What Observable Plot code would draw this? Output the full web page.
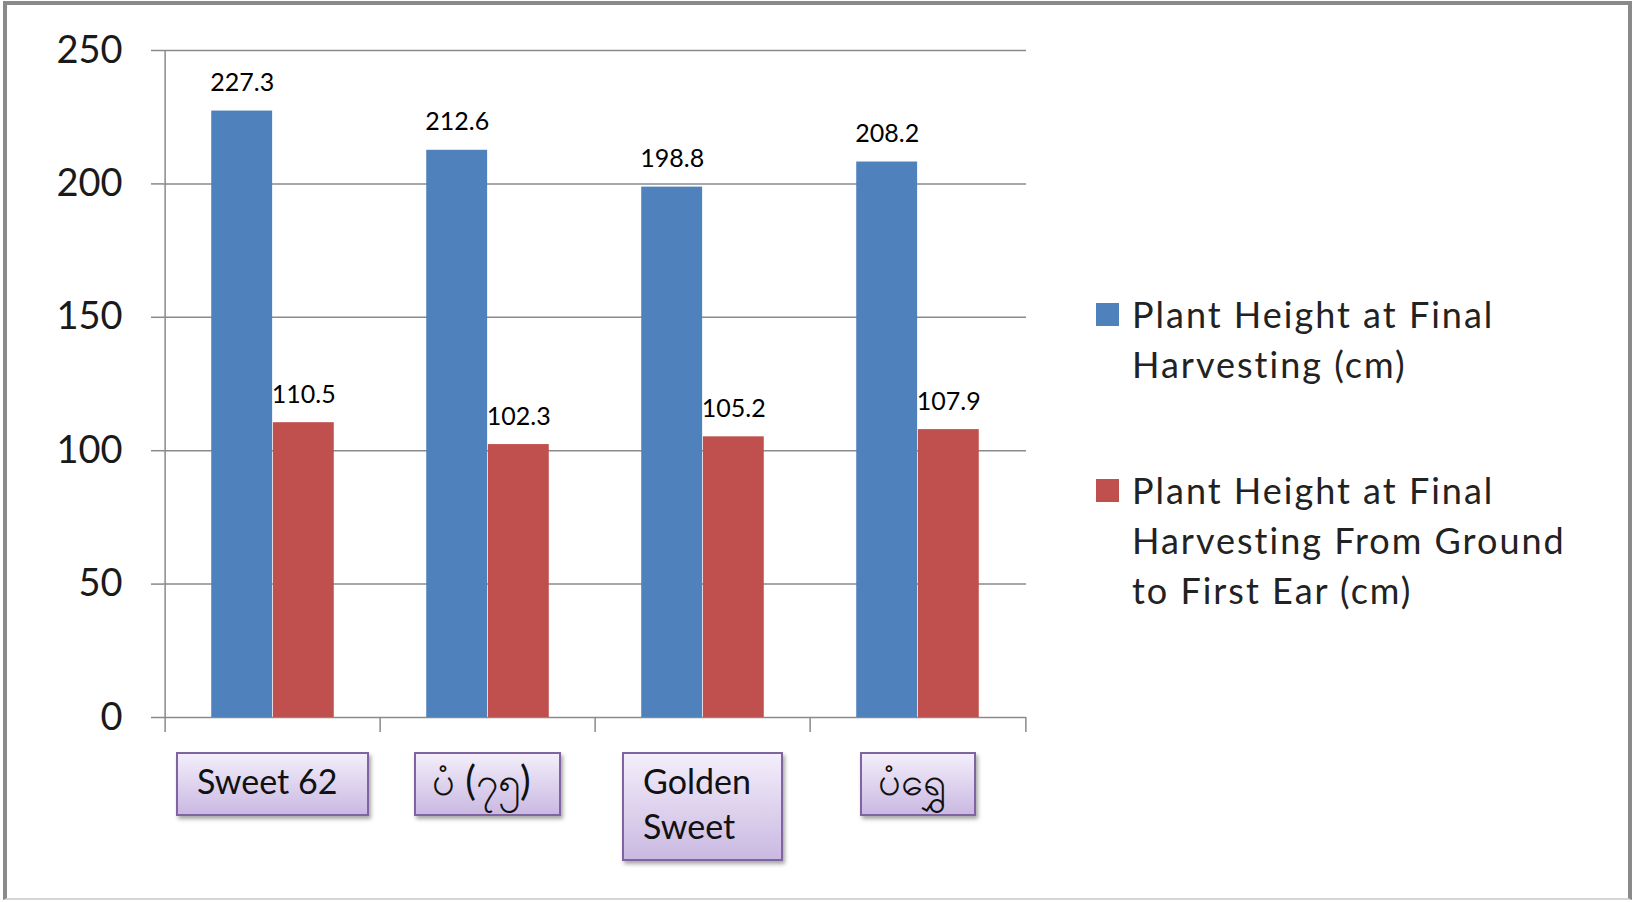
<!DOCTYPE html>
<html><head><meta charset="utf-8">
<script src="https://cdn.jsdelivr.net/npm/d3@7"></script>
<script src="https://cdn.jsdelivr.net/npm/@observablehq/plot@0.6"></script>
<style>
body{margin:0;background:#fff;font-family:Lato,"Noto Sans",sans-serif;width:1633px;height:902px;overflow:hidden;position:relative;}
#frame{position:absolute;left:3px;top:1px;width:1629px;height:899px;box-sizing:border-box;border:4px solid #8a8a8a;border-bottom:2px solid #d6d6d6;}
#chart{position:absolute;left:0;top:0;}
.cat{position:absolute;top:752px;box-sizing:border-box;height:auto;border:2px solid #8064a2;background:linear-gradient(#f3eefa,#cab9e2);box-shadow:2px 3px 4px rgba(0,0,0,.35);font-size:34px;line-height:45px;padding:4px 30px 11px 19px;color:#111;white-space:pre;}
.cat.my{font-size:40px;padding-right:28px;padding-left:16px;}
.legend{position:absolute;left:1096px;font-size:36px;line-height:50px;color:#222;letter-spacing:2px;}
.legend .sw{position:absolute;left:0;width:23px;height:23px;}
.legend .tx{position:absolute;left:36px;white-space:pre;}
</style>
</head><body>
<div id="frame"></div>
<div id="chart"></div>
<script>
const categories = ["Sweet 62", "ပံ (၇၅)", "Golden Sweet", "ပံရွှေ"];
const categoryLabels = ["Sweet 62", "ပံ (၇၅)", "Golden\nSweet", "ပံရွှေ"];
const seriesNames = ["Plant Height at Final Harvesting (cm)", "Plant Height at Final Harvesting From Ground to First Ear (cm)"];
const seriesLegendLines = [["Plant Height at Final", "Harvesting (cm)"], ["Plant Height at Final", "Harvesting From Ground", "to First Ear (cm)"]];
const plantHeight = [227.3, 212.6, 198.8, 208.2];
const earHeight = [110.5, 102.3, 105.2, 107.9];
const yTicks = [0, 50, 100, 150, 200, 250];
const colors = ["#4F81BD", "#C0504D"];

const W = 1040, H = 740, mL = 163, mR = 14, mT = 50, mB = 23;
const bw = (W - mL - mR) / categories.length;
const barW = bw / 3.5, gap = bw * 0.75 / 3.5;
const grid = "#8a8a8a";

const blueRows = categories.map((c, i) => ({cat: c, value: plantHeight[i], series: seriesNames[0]}));
const redRows = categories.map((c, i) => ({cat: c, value: earHeight[i], series: seriesNames[1]}));

const plot = Plot.plot({
  width: W, height: H, marginLeft: mL, marginRight: mR, marginTop: mT, marginBottom: mB,
  style: {fontFamily: "Lato, sans-serif", color: "#1a1a1a", background: "transparent", overflow: "visible"},
  x: {domain: categories, padding: 0, axis: null},
  y: {domain: [0, 250], axis: null},
  marks: [
    Plot.ruleY(yTicks, {stroke: grid, strokeWidth: 1.5}),
    Plot.barY(blueRows, {x: "cat", y: "value", fill: colors[0], insetLeft: gap, insetRight: bw - gap - barW}),
    Plot.barY(redRows, {x: "cat", y: "value", fill: colors[1], insetLeft: gap + barW, insetRight: gap}),
    Plot.text(blueRows, {x: "cat", y: "value", text: d => d.value.toFixed(1), dx: -barW / 2, dy: -20, lineAnchor: "bottom", fontSize: 25, fill: "#000"}),
    Plot.text(redRows, {x: "cat", y: "value", text: d => d.value.toFixed(1), dx: barW / 2, dy: -20, lineAnchor: "bottom", fontSize: 25, fill: "#000"}),
    Plot.ruleX([categories[0]], {dx: -bw / 2, stroke: grid, strokeWidth: 1.5}),
    Plot.axisY({ticks: yTicks, tickSize: 12, tickPadding: 29, fontSize: 38, stroke: grid, strokeWidth: 1.5, label: null, tickFormat: d => String(d)}),
    Plot.axisX({ticks: categories, tickSize: 15, dx: -bw / 2, tickFormat: () => "", label: null, stroke: grid, strokeWidth: 1.5}),
    Plot.axisX({ticks: [categories[categories.length - 1]], tickSize: 15, dx: bw / 2, tickFormat: () => "", label: null, stroke: grid, strokeWidth: 1.5})
  ]
});
document.getElementById("chart").appendChild(plot);

// category label boxes, positioned from the x scale
const xs = plot.scale("x");
categories.forEach((c, i) => {
  const d = document.createElement("div");
  d.className = /[\u1000-\u109F]/.test(c) ? "cat my" : "cat";
  d.textContent = categoryLabels[i];
  document.body.appendChild(d);
  const center = xs.apply(c) + xs.bandwidth / 2;
  d.style.left = (center - d.offsetWidth / 2) + "px";
});

// legend
const legendTops = [289, 465];
seriesNames.forEach((s, i) => {
  const g = document.createElement("div");
  g.className = "legend";
  g.style.top = legendTops[i] + "px";
  const sw = document.createElement("div");
  sw.className = "sw";
  sw.style.background = colors[i];
  sw.style.top = "14px";
  const tx = document.createElement("div");
  tx.className = "tx";
  tx.textContent = seriesLegendLines[i].join("\n");
  tx.title = s;
  g.appendChild(sw); g.appendChild(tx);
  document.body.appendChild(g);
});
</script>
</body></html>
